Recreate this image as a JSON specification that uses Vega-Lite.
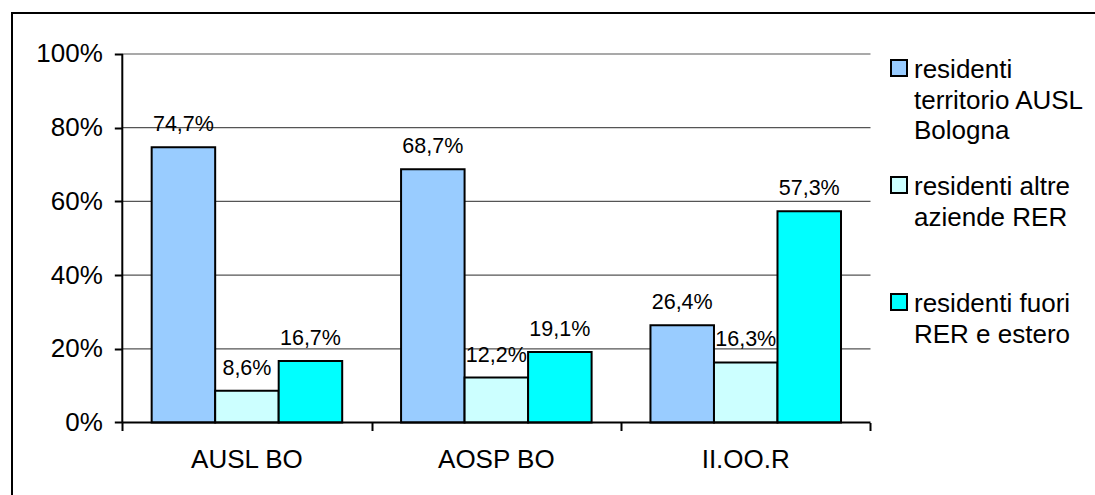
{
  "$schema": "https://vega.github.io/schema/vega-lite/v6.json",
  "width": 1100,
  "height": 497,
  "autosize": {"type": "none"},
  "padding": {"left": 12, "top": 13, "right": 0, "bottom": 0},
  "background": "white",
  "config": {
    "view": {"stroke": "black", "strokeWidth": 2},
    "font": "Liberation Sans",
    "locale": {"number": {"decimal": ",", "thousands": ".", "grouping": [3], "currency": ["", " €"]}}
  },
  "datasets": {
    "bars": [
      {"cat": "AUSL BO", "serie": "residenti territorio AUSL Bologna", "value": 0.747},
      {"cat": "AUSL BO", "serie": "residenti altre aziende RER", "value": 0.086},
      {"cat": "AUSL BO", "serie": "residenti fuori RER e estero", "value": 0.167},
      {"cat": "AOSP BO", "serie": "residenti territorio AUSL Bologna", "value": 0.687},
      {"cat": "AOSP BO", "serie": "residenti altre aziende RER", "value": 0.122},
      {"cat": "AOSP BO", "serie": "residenti fuori RER e estero", "value": 0.191},
      {"cat": "II.OO.R", "serie": "residenti territorio AUSL Bologna", "value": 0.264},
      {"cat": "II.OO.R", "serie": "residenti altre aziende RER", "value": 0.163},
      {"cat": "II.OO.R", "serie": "residenti fuori RER e estero", "value": 0.573}
    ],
    "grid": [{"value": 0.2}, {"value": 0.4}, {"value": 0.6}, {"value": 0.8}, {"value": 1.0}]
  },
  "layer": [
    {
      "data": {"name": "grid"},
      "mark": {"type": "rule", "color": "#555555", "strokeWidth": 1.2},
      "encoding": {
        "x": {
          "datum": 0, "type": "quantitative",
          "scale": {"domain": [-0.44226, 3.96834], "nice": false, "zero": false},
          "axis": {"title": null, "orient": "bottom", "offset": -87.5, "values": [0, 1, 2, 3], "labels": false, "domain": false, "grid": false, "tickSize": 8, "tickWidth": 2, "tickColor": "black"}
        },
        "x2": {"datum": 3},
        "y": {
          "field": "value", "type": "quantitative",
          "scale": {"domain": [-0.23745, 1.11126], "nice": false, "zero": false},
          "axis": {
            "title": null, "offset": -110.3, "domain": false, "grid": false,
            "values": [0, 0.2, 0.4, 0.6, 0.8, 1.0], "format": ".0%",
            "tickSize": 8, "tickWidth": 2, "tickColor": "black",
            "labelFontSize": 26, "labelColor": "black", "labelPadding": 12, "labelFont": "Liberation Sans"
          }
        }
      }
    },
    {
      "data": {"name": "bars"},
      "layer": [
        {
          "mark": {"type": "bar", "stroke": "black", "strokeWidth": 2},
          "encoding": {
            "x": {
              "field": "cat", "type": "nominal", "sort": ["AUSL BO", "AOSP BO", "II.OO.R"],
              "scale": {"paddingInner": 0.236, "paddingOuter": 0.8233, "align": 0.3401},
              "axis": {
                "title": null, "orient": "bottom", "offset": -87.5, "domain": false, "ticks": false,
                "labelAngle": 0, "labelFontSize": 26, "labelColor": "black", "labelPadding": 24, "labelFont": "Liberation Sans"
              }
            },
            "xOffset": {"field": "serie", "type": "nominal", "sort": ["residenti territorio AUSL Bologna", "residenti altre aziende RER", "residenti fuori RER e estero"]},
            "y": {
              "field": "value", "type": "quantitative",
              "scale": {"domain": [-0.23745, 1.11126], "nice": false, "zero": false},
              "axis": {
                "title": null, "offset": -110.3, "domain": false, "grid": false,
                "values": [0, 0.2, 0.4, 0.6, 0.8, 1.0], "format": ".0%",
                "tickSize": 8, "tickWidth": 2, "tickColor": "black",
                "labelFontSize": 26, "labelColor": "black", "labelPadding": 12, "labelFont": "Liberation Sans"
              }
            },
            "color": {
              "field": "serie", "type": "nominal",
              "scale": {"domain": ["residenti territorio AUSL Bologna", "residenti altre aziende RER", "residenti fuori RER e estero"], "range": ["#99CCFF", "#CCFFFF", "#00FFFF"]},
              "legend": {
                "title": null, "orient": "none", "legendX": 874, "legendY": 42, "padding": 0,
                "symbolType": "square", "symbolSize": 256, "symbolStrokeColor": "black", "symbolStrokeWidth": 2,
                "labelFontSize": 26, "labelColor": "black", "labelFont": "Liberation Sans", "labelLimit": 400,
                "labelOffset": 2, "labelBaseline": "top", "gridAlign": "all", "rowPadding": 28,
                "labelExpr": "datum.label == 'residenti territorio AUSL Bologna' ? ['residenti', 'territorio AUSL', 'Bologna'] : datum.label == 'residenti altre aziende RER' ? ['residenti altre', 'aziende RER'] : ['residenti fuori', 'RER e estero']",
                "encode": {"labels": {"update": {"lineHeight": {"value": 30.5}, "dy": {"value": -11}}}}
              }
            }
          }
        },
        {
          "mark": {"type": "text", "dy": -22, "fontSize": 21.5, "color": "black", "baseline": "middle", "align": "center", "font": "Liberation Sans"},
          "encoding": {
            "x": {"field": "cat", "type": "nominal", "sort": ["AUSL BO", "AOSP BO", "II.OO.R"]},
            "xOffset": {"field": "serie", "type": "nominal", "sort": ["residenti territorio AUSL Bologna", "residenti altre aziende RER", "residenti fuori RER e estero"]},
            "y": {"field": "value", "type": "quantitative"},
            "text": {"field": "value", "type": "quantitative", "format": ".1%"}
          }
        }
      ]
    },
    {
      "data": {"values": [{}]},
      "layer": [
        {
          "mark": {"type": "rule", "color": "black", "strokeWidth": 2},
          "encoding": {
            "x": {"datum": 0, "type": "quantitative", "scale": {"domain": [-0.44226, 3.96834], "nice": false, "zero": false}, "axis": null},
            "y": {
              "datum": 0, "type": "quantitative",
              "axis": {
                "title": null, "offset": -110.3, "domain": false, "grid": false,
                "values": [0, 0.2, 0.4, 0.6, 0.8, 1.0], "format": ".0%",
                "tickSize": 8, "tickWidth": 2, "tickColor": "black",
                "labelFontSize": 26, "labelColor": "black", "labelPadding": 12, "labelFont": "Liberation Sans"
              }
            },
            "y2": {"datum": 1}
          }
        },
        {
          "mark": {"type": "rule", "color": "black", "strokeWidth": 2},
          "encoding": {
            "x": {"datum": 0, "type": "quantitative"},
            "x2": {"datum": 3},
            "y": {"datum": 0, "type": "quantitative"}
          }
        }
      ]
    }
  ],
  "resolve": {"scale": {"x": "independent"}}
}
